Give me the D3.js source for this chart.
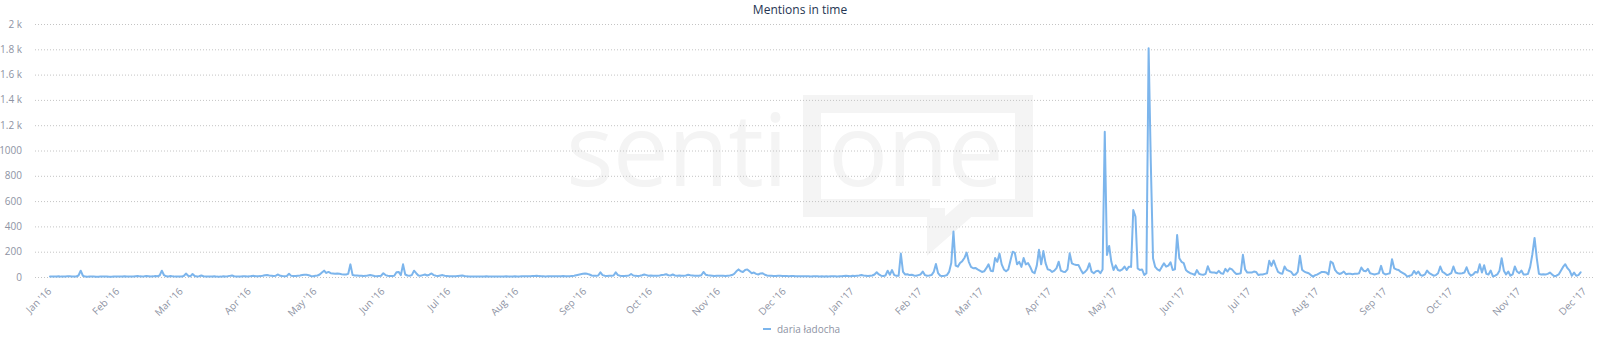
<!DOCTYPE html>
<html>
<head>
<meta charset="utf-8">
<script src="https://cdn.jsdelivr.net/npm/d3@7/dist/d3.min.js"></script>
<style>
  html, body { margin: 0; padding: 0; background: #ffffff; }
  svg { display: block; font-family: "Open Sans", "DejaVu Sans", sans-serif; }
</style>
</head>
<body>
<svg id="chart" width="1600" height="343"></svg>
<script>
// Daily mention counts, one value per day starting at startDate
const startDate = "2016-01-01";
const seriesName = "daria ładocha";
const chartTitle = "Mentions in time";

const jan16 = [4,3,3,4,5,3,3,4,6,5,4,3,4,12,50,10,3,2,3,4,3,2,2,3,3,4,3,2,2,3,3];
const feb16 = [3,3,4,5,4,3,3,4,6,8,5,4,5,7,6,4,5,8,6,12,50,14,5,4,8,5,3,4,3];
const mar16 = [4,8,27,10,5,24,8,4,6,12,6,4,3,3,4,5,3,2,3,5,4,6,9,12,6,4,3,4,5,6,4];
const apr16 = [5,8,9,6,5,7,10,14,15,12,10,8,10,20,9,7,6,8,25,9,7,8,10,12,15,18,18,14,8,6];
const may16 = [10,12,20,35,50,32,40,30,28,25,27,25,22,20,20,25,100,15,12,12,10,10,8,9,12,15,12,8,6,8,10];
const jun16 = [30,15,10,8,8,10,38,40,15,100,20,12,10,15,50,30,12,10,15,20,12,18,28,15,10,8,12,15,10,8];
const jul16 = [6,5,5,6,8,10,12,8,5,4,4,3,3,4,3,3,4,5,4,3,3,3,4,3,3,4,5,4,3,4,5];
const aug16 = [4,4,5,5,6,5,6,7,8,10,7,5,5,4,5,6,5,5,6,5,6,7,6,5,6,8,10,14,18,22,25];
const sep16 = [28,25,20,12,10,9,12,37,15,10,8,9,10,12,37,15,10,8,8,9,12,24,12,9,8,10,14,20,15,10];
const oct16 = [12,10,9,10,12,15,18,22,14,12,20,12,10,12,10,9,12,18,14,12,10,9,10,14,40,18,14,12,10,8,10];
const nov16 = [10,9,10,8,10,12,15,25,45,60,45,40,55,60,45,30,35,25,20,28,30,18,12,10,9,8,8,10,9,8];
const dec16 = [8,7,6,8,7,6,5,6,5,5,6,5,4,5,6,5,4,5,4,5,4,5,6,5,4,5,6,8,10,8,6];
const jan17 = [10,8,10,12,15,12,10,8,10,12,20,38,20,10,8,12,50,18,55,15,10,10,185,40,20,22,15,18,12,10,15];
const feb17 = [20,43,15,10,12,15,40,103,30,10,8,10,15,40,110,360,90,82,110,125,150,193,120,80,69,72,60,50];
const mar17 = [40,45,70,100,50,45,150,120,185,100,60,45,60,130,200,190,100,120,80,150,100,110,80,40,30,90,215,100,205,110,60];
const apr17 = [55,40,50,70,121,50,42,40,60,187,108,100,95,95,60,29,40,60,108,42,30,45,50,30,60,1149,174,245,120,55];
const may17 = [92,55,50,60,82,55,82,80,530,477,68,55,60,16,30,1808,900,148,80,60,50,80,108,82,90,116,55,60,332,148,120];
const jun17 = [110,55,40,30,25,16,55,25,20,18,25,85,40,35,35,30,48,30,25,64,43,69,60,40,24,25,30,175,60,35];
const jul17 = [35,35,43,40,16,20,20,25,30,128,88,131,83,40,30,25,83,56,48,40,16,20,40,168,56,43,35,30,15,3,15];
const aug17 = [20,30,40,40,35,20,123,110,56,35,24,30,43,22,25,25,22,25,25,30,75,50,45,64,30,25,20,25,30,88,30];
const sep17 = [20,25,30,141,69,60,56,40,30,20,3,10,15,48,25,43,15,10,20,51,30,20,10,15,30,83,40,30,15,20];
const oct17 = [30,83,35,30,28,30,35,77,30,10,20,40,35,101,35,93,25,20,51,5,10,20,50,149,50,20,43,10,20,83,43];
const nov17 = [30,51,20,20,25,80,180,309,150,25,20,22,20,25,35,20,5,10,20,50,80,101,70,50,10,35,10,15,37];

const yTickValues = [0, 200, 400, 600, 800, 1000, 1200, 1400, 1600, 1800, 2000];
const yTickLabels = ["0", "200", "400", "600", "800", "1000", "1.2 k", "1.4 k", "1.6 k", "1.8 k", "2 k"];
const xTickMonths = ["2016-01","2016-02","2016-03","2016-04","2016-05","2016-06","2016-07","2016-08",
  "2016-09","2016-10","2016-11","2016-12","2017-01","2017-02","2017-03","2017-04","2017-05","2017-06",
  "2017-07","2017-08","2017-09","2017-10","2017-11","2017-12"];
const xTickLabels = ["Jan '16","Feb '16","Mar '16","Apr '16","May '16","Jun '16","Jul '16","Aug '16",
  "Sep '16","Oct '16","Nov '16","Dec '16","Jan '17","Feb '17","Mar '17","Apr '17","May '17","Jun '17",
  "Jul '17","Aug '17","Sep '17","Oct '17","Nov '17","Dec '17"];

const dailyValues = [].concat(jan16, feb16, mar16, apr16, may16, jun16, jul16, aug16, sep16, oct16, nov16, dec16,
  jan17, feb17, mar17, apr17, may17, jun17, jul17, aug17, sep17, oct17, nov17);

const parseDay = d3.utcParse("%Y-%m-%d");
const parseMonth = d3.utcParse("%Y-%m");
const t0 = parseDay(startDate);
const points = dailyValues.map((v, i) => ({ date: d3.utcDay.offset(t0, i), value: v }));

const svg = d3.select("#chart");

const x = d3.scaleUtc()
  .domain([parseMonth(xTickMonths[0]), parseMonth(xTickMonths[xTickMonths.length - 1])])
  .range([50, 1585]);
const y = d3.scaleLinear().domain([0, 2000]).range([277, 24]);

const gridLeft = 35, gridRight = 1595;

// Watermark logo behind the plot
const wmColor = "#f4f4f4";
const wm = svg.append("g").attr("class", "watermark").attr("fill", wmColor);
wm.append("text")
  .attr("x", 566).attr("y", 186)
  .attr("font-size", 100).attr("font-weight", 400)
  .attr("letter-spacing", -1)
  .text("senti");
wm.append("path")
  .attr("fill", "none").attr("stroke", wmColor).attr("stroke-width", 18)
  .attr("d", "M 930 208 L 812 208 L 812 104 L 1024 104 L 1024 208 L 968 208 L 936 236 L 936 208");
wm.append("text")
  .attr("x", 828).attr("y", 186)
  .attr("font-size", 100).attr("font-weight", 400)
  .attr("letter-spacing", -1)
  .text("one");

// Horizontal dotted grid lines
svg.append("g").selectAll("line")
  .data(yTickValues)
  .join("line")
  .attr("x1", gridLeft).attr("x2", gridRight)
  .attr("y1", d => y(d) + 0.5).attr("y2", d => y(d) + 0.5)
  .attr("stroke", "#c4c4c4")
  .attr("stroke-width", 1)
  .attr("stroke-dasharray", "1,2");

// Y axis labels
svg.append("g").selectAll("text")
  .data(yTickValues)
  .join("text")
  .attr("x", 22).attr("y", d => y(d))
  .attr("dy", "0.35em")
  .attr("text-anchor", "end")
  .attr("font-size", 10)
  .attr("fill", "#8e93a3")
  .text((d, i) => yTickLabels[i]);

// X axis labels, rotated
svg.append("g").selectAll("text")
  .data(xTickMonths)
  .join("text")
  .attr("transform", d => `translate(${x(parseMonth(d)) + 2},${292}) rotate(-45)`)
  .attr("text-anchor", "end")
  .attr("font-size", 10)
  .attr("fill", "#8e93a3")
  .text((d, i) => xTickLabels[i]);

// Series line
const line = d3.line()
  .x(d => x(d.date))
  .y(d => y(d.value));

svg.append("path")
  .datum(points)
  .attr("fill", "none")
  .attr("stroke", "#7cb5ec")
  .attr("stroke-width", 2)
  .attr("stroke-linejoin", "round")
  .attr("stroke-linecap", "round")
  .attr("d", line);

// Title
svg.append("text")
  .attr("x", 800).attr("y", 14)
  .attr("text-anchor", "middle")
  .attr("font-size", 12)
  .attr("fill", "#253552")
  .text(chartTitle);

// Legend
const legend = svg.append("g").attr("transform", "translate(763,329)");
legend.append("line")
  .attr("x1", 0).attr("x2", 8).attr("y1", 0).attr("y2", 0)
  .attr("stroke", "#7cb5ec").attr("stroke-width", 2);
legend.append("text")
  .attr("x", 14).attr("y", 0).attr("dy", "0.35em")
  .attr("font-size", 10)
  .attr("fill", "#8e93a3")
  .text(seriesName);
</script>
</body>
</html>
